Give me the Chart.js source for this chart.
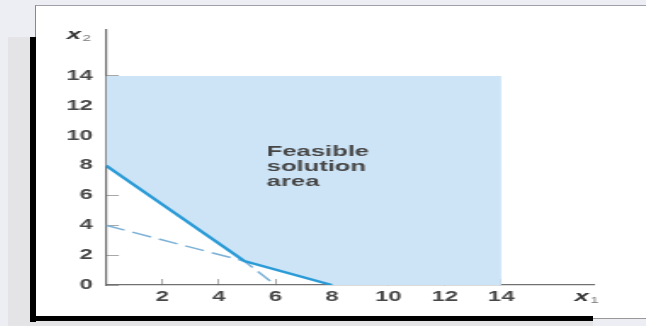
<!DOCTYPE html>
<html>
<head>
<meta charset="utf-8">
<script src="https://cdn.jsdelivr.net/npm/chart.js@4.4.1/dist/chart.umd.min.js"></script>
<style>
  html, body { margin: 0; padding: 0; }
  body { width: 646px; height: 326px; position: relative; overflow: hidden; background: #ededf4; }
  .shade { position: absolute; left: 8px; top: 37px; width: 585px; height: 289px; background: #e4e4e6; }
  .paper { position: absolute; left: 35px; top: 5px; width: 611px; height: 313px; background: #fff; border-top: 1px solid #a0a0a8; border-left: 1px solid #888; box-sizing: border-box; }
  .bar-left { position: absolute; left: 30px; top: 37px; width: 6px; height: 285px; background: #000; }
  .bar-bottom { position: absolute; left: 30px; top: 316px; width: 563px; height: 5px; background: #000; }
  .rule { position: absolute; left: 593px; top: 318px; width: 53px; height: 1px; background: #999; }
  /* the source picture is stretched sideways, so the chart is too */
  #wrap { position: absolute; left: 37px; top: 6px; width: 358px; height: 310px; transform: scaleX(1.7011); transform-origin: 0 0; }
</style>
</head>
<body>
<div class="shade"></div>
<div class="paper"></div>
<div class="bar-left"></div>
<div class="bar-bottom"></div>
<div class="rule"></div>
<div id="wrap"><canvas id="myChart"></canvas></div>
<script>
// Datos
const xTicks = [2, 4, 6, 8, 10, 12, 14];
const yTicks = [0, 2, 4, 6, 8, 10, 12, 14];
const solidX = [0, 4.9, 8];
const solidY = [8, 1.6, 0];
const dashedX = [0, 4.9, 6];
const dashedY = [4, 1.6, 0];
const areaX = [0, 4.9, 8, 14, 14, 0];
const areaY = [8, 1.6, 0, 0, 14, 14];
const areaLabel = ['Feasible', 'solution', 'area'];
const areaLabelAt = [5.7, 8.9];
const yName = ['x', '2'];
const xName = ['x', '1'];
const xMax = 17.26;
const yMax = 17.08;

const FONT = '"Liberation Sans", Arial, sans-serif';
const toPoints = (xs, ys) => xs.map((x, i) => ({ x, y: ys[i] }));

// Textos del área y nombres de ejes
const labelsPlugin = {
  id: 'labels',
  afterDatasetsDraw(chart) {
    const { ctx, chartArea, scales: { x, y } } = chart;
    ctx.save();
    ctx.textAlign = 'left';
    ctx.textBaseline = 'middle';
    ctx.fillStyle = '#464646';
    ctx.font = 'bold 15px ' + FONT;
    const lx = x.getPixelForValue(areaLabelAt[0]);
    const ly = y.getPixelForValue(areaLabelAt[1]);
    areaLabel.forEach((t, i) => ctx.fillText(t, lx, ly + i * 15));

    const axisName = ([sym, sub], px, py) => {
      ctx.font = 'italic bold 15px ' + FONT;
      ctx.fillStyle = '#333';
      ctx.fillText(sym, px, py);
      const w = ctx.measureText(sym).width;
      ctx.font = '9px ' + FONT;
      ctx.fillStyle = '#777';
      ctx.fillText(sub, px + w + 1, py + 4);
    };
    axisName(yName, chartArea.left - 23, chartArea.top + 5);
    axisName(xName, chartArea.right - 11, x.top + 12);
    ctx.restore();
  }
};

const ctx = document.getElementById('myChart').getContext('2d');
const chart = new Chart(ctx, {
  type: 'scatter',
  data: {
    datasets: [
      {
        data: toPoints(solidX, solidY),
        showLine: true,
        borderColor: '#2a9bd6',
        borderWidth: 2.4,
        pointRadius: 0,
        fill: false
      },
      {
        data: toPoints(dashedX, dashedY),
        showLine: true,
        borderColor: '#7db2d6',
        borderWidth: 1.5,
        borderDash: [12, 5],
        pointRadius: 0,
        fill: false
      },
      {
        data: toPoints(areaX, areaY),
        showLine: true,
        borderWidth: 0,
        borderColor: 'rgba(0,0,0,0)',
        backgroundColor: '#cde4f7',
        pointRadius: 0,
        fill: 'shape'
      }
    ]
  },
  options: {
    responsive: true,
    maintainAspectRatio: false,
    animation: false,
    layout: { padding: { left: 0, right: 31, top: 24, bottom: 0 } },
    plugins: { legend: { display: false }, tooltip: { enabled: false } },
    scales: {
      x: {
        type: 'linear',
        min: 0,
        max: xMax,
        afterBuildTicks: (s) => { s.ticks = xTicks.map(v => ({ value: v })); },
        afterFit: (s) => { s.height = 31; },
        border: { color: '#707070', width: 1.2 },
        grid: { drawOnChartArea: false, drawTicks: true, tickLength: -6, tickColor: '#a8a8a8', tickWidth: 1 },
        ticks: { padding: 10, color: '#484848', autoSkip: false, maxRotation: 0, font: { family: FONT, size: 14, weight: 'bold' } }
      },
      y: {
        type: 'linear',
        min: 0,
        max: yMax,
        afterBuildTicks: (s) => { s.ticks = yTicks.map(v => ({ value: v })); },
        afterFit: (s) => { s.width = 40.5; },
        border: { color: '#707070', width: 1.2 },
        grid: { drawOnChartArea: false, drawTicks: true, tickLength: -7.6, tickColor: '#a8a8a8', tickWidth: 1 },
        ticks: { padding: 15.2, color: '#484848', autoSkip: false, font: { family: FONT, size: 14, weight: 'bold' } }
      }
    }
  },
  plugins: [labelsPlugin]
});
</script>
</body>
</html>
